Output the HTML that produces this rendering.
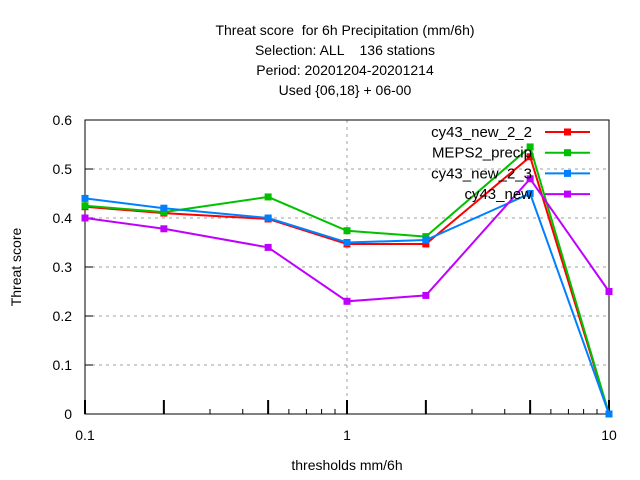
<!DOCTYPE html>
<html><head><meta charset="utf-8"><style>
body{margin:0;background:#fff}
svg{display:block;font-family:"Liberation Sans",sans-serif;font-size:14px}
text{white-space:pre}
</style></head><body>
<svg id="c" width="640" height="480">
<g text-anchor="middle" font-size="14">
<text x="345" y="35">Threat score  for 6h Precipitation (mm/6h)</text>
<text x="345" y="55">Selection: ALL    136 stations</text>
<text x="345" y="75">Period: 20201204-20201214</text>
<text x="345" y="95">Used {06,18} + 06-00</text>
</g>
<text x="21" y="267" transform="rotate(-90 21 267)" text-anchor="middle">Threat score</text>
<text x="347" y="470" text-anchor="middle">thresholds mm/6h</text>
<g id="grid"></g><g id="axes"></g><g id="series"></g><g id="legend"></g>
</svg>
<script>
const thresholds=[0.1,0.2,0.5,1,2,5,10];
const seriesNames=["cy43_new_2_2","MEPS2_precip","cy43_new_2_3","cy43_new"];
const seriesColors=["#ff0000","#00c000","#0080ff","#c000ff"];
const redVals=[0.423,0.41,0.398,0.347,0.347,0.525,0.0];
const greenVals=[0.425,0.412,0.443,0.374,0.362,0.545,0.0];
const blueVals=[0.44,0.42,0.40,0.35,0.355,0.45,0.0];
const purpleVals=[0.40,0.378,0.34,0.23,0.242,0.48,0.25];
const yTicks=[0,0.1,0.2,0.3,0.4,0.5,0.6];
const yTickLabels=["0","0.1","0.2","0.3","0.4","0.5","0.6"];
const xTickLabels=[[0.1,"0.1"],[1,"1"],[10,"10"]];
const allVals=[redVals,greenVals,blueVals,purpleVals];
const L=85,R=609,T=120,B=414;
const xs=v=>L+(Math.log10(v)+1)/2*(R-L);
const ys=v=>B-v/0.6*(B-T);
const NS="http://www.w3.org/2000/svg";
function mk(p,t,a){const e=document.createElementNS(NS,t);for(const k in a)e.setAttribute(k,a[k]);p.appendChild(e);return e;}
const grid=document.getElementById('grid'),axes=document.getElementById('axes'),ser=document.getElementById('series'),leg=document.getElementById('legend');
yTicks.forEach((v,i)=>{
 if(v>0&&v<0.6){const g=mk(grid,'line',{x1:L,x2:R,y1:ys(v),y2:ys(v),stroke:'#a0a0a0','stroke-dasharray':'3,4'});
 
 }
 const t=mk(axes,'line',{x1:L,x2:L+8,y1:ys(v),y2:ys(v),stroke:'#000'});
 
 
 const tx=mk(axes,'text',{x:L-13,y:ys(v)+5,'text-anchor':'end'});tx.textContent=yTickLabels[i];
 
 
});
const vg=mk(grid,'line',{x1:xs(1),x2:xs(1),y1:T,y2:B,stroke:'#a0a0a0','stroke-dasharray':'3,4'});


for(let d=-1;d<1;d++)for(let m=2;m<10;m++){const x=xs(m*Math.pow(10,d));
 const t=mk(axes,'line',{x1:x,x2:x,y1:B,y2:B-5,stroke:'#000'});
 
 }
thresholds.forEach(v=>{const x=xs(v);
 const t=mk(axes,'line',{x1:x,x2:x,y1:B,y2:B-14,stroke:'#000','stroke-width':2});
 
 });
xTickLabels.forEach(([v,s])=>{const tx=mk(axes,'text',{x:xs(v),y:B+26,'text-anchor':'middle'});tx.textContent=s;
 
 });
const fr=mk(axes,'rect',{x:L,y:T,width:R-L,height:B-T,fill:'none',stroke:'#000'});


allVals.forEach((vals,i)=>{
 const c=seriesColors[i];
 const pl=mk(ser,'polyline',{points:vals.map((v,j)=>xs(thresholds[j])+','+ys(v)).join(' '),fill:'none',stroke:c,'stroke-width':2});
 
 
 vals.forEach((v,j)=>{const p=mk(ser,'rect',{x:xs(thresholds[j])-3.5,y:ys(v)-3.5,width:7,height:7,fill:c});
 
 });
 const y=132+i*20.7;
 const t=mk(leg,'text',{x:532,y:y+5,'text-anchor':'end','font-size':15});t.textContent=seriesNames[i];
 
 
 const l=mk(leg,'line',{x1:545,x2:590,y1:y,y2:y,stroke:c,'stroke-width':2});
 
 
 const m=mk(leg,'rect',{x:564,y:y-3.5,width:7,height:7,fill:c});
 
 
});
</script>
</body></html>
